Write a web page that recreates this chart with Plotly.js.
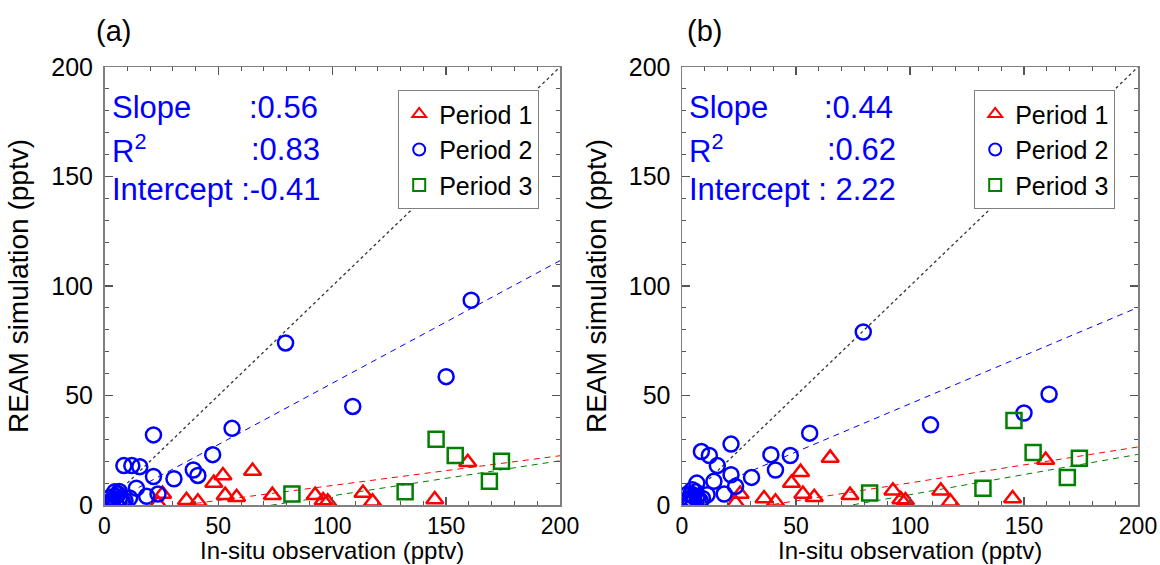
<!DOCTYPE html>
<html>
<head>
<meta charset="utf-8">
<script src="https://cdn.plot.ly/plotly-3.0.1.min.js"></script>
<style>html,body{margin:0;padding:0;background:#fff;}#chart{width:1160px;height:565px;}</style>
</head>
<body>
<div id="chart"></div>
<script>
// ---------------- data ----------------
const panelLabels = ['(a)', '(b)'];
const seriesNames = ['Period 1', 'Period 2', 'Period 3'];
const tickValues = [0, 50, 100, 150, 200];
const xTitle = 'In-situ observation (pptv)';
const yTitle = 'REAM simulation (pptv)';

// Period 1 (red triangles)
const obsP1  = [23.5, 25.5, 36, 41, 48, 52, 53, 58, 65, 73.7, 92.5, 96, 98, 113.5, 117.7, 145, 159.5];
const simP1a = [0.5, 5, 2.2, 1.5, 10, 13.5, 4.5, 3.5, 15.5, 4.5, 4.5, 2, 1.5, 5.5, 1.5, 2.5, 19.5];
const simP1b = [1, 5, 3, 1.5, 10, 15, 5, 3.5, 21.5, 4.5, 6.5, 2.5, 2, 6.5, 1.5, 3, 20.5];

// Period 2 (blue circles)
const obsP2  = [79.5, 109, 161, 150, 56, 21.5, 47.5, 39, 41, 30.5, 21.5, 8.5, 12, 15.5, 14, 18.5, 23.5, 6.5, 11,
                2, 3, 4, 5, 6, 7, 8, 3.5, 5, 6.5, 2.5, 4.5, 9];
const simP2a = [74, 45, 93.5, 58.6, 35, 32, 23, 16, 13.5, 12, 13, 18, 18, 17.5, 7.7, 4, 5, 6.2, 3.2,
                1, 2, 3, 4, 5, 2, 1.5, 0.5, 1, 3, 3.5, 6, 2];
const simP2b = [79, 36.6, 50.6, 42, 32.8, 27.8, 22.6, 23, 16, 12.6, 13.8, 24.4, 22.6, 18, 10.8, 5, 8.5, 10, 4.7,
                2, 3, 5, 4, 6, 3, 2, 1, 1.5, 4, 5, 7, 3];

// Period 3 (green squares)
const obsP3  = [82.3, 132, 145.6, 154, 169, 174.3];
const simP3a = [5, 6, 30, 22.6, 10.8, 20];
const simP3b = [5.5, 7.7, 38.6, 24, 12.6, 21.4];

// regression lines: [slope, intercept, start x] for Period 1, 2, 3
const fitA = [[0.136, -4.7, 40], [0.56, -0.41, 15], [0.16, -11.8, 73]];
const fitB = [[0.164, -6.3, 40], [0.44, 2.22, 22], [0.184, -13.7, 75]];

// statistics text
const statLabels = ['Slope', 'R<sup>2</sup>'];
const statsA = [':0.56', ':0.83', 'Intercept :-0.41'];
const statsB = [':0.44', ':0.62', 'Intercept : 2.22'];

// ---------------- styling ----------------
const W = 1160, H = 565;
const colors = ['#ff0000', '#0000ff', '#008000'];
const symbols = ['triangle-up-open', 'circle-open', 'square-open'];
const FONT = 'Liberation Sans, Arial, Helvetica, sans-serif';
const px = v => v / W;
const py = v => 1 - v / H;

const panels = [
  {xa: 'x', ya: 'y', leg: 'legend', sims: [simP1a, simP2a, simP3a], fit: fitA, stats: statsA,
   left: 104.5, right: 560, statX: [110, 246.5, 249], label: [113, 31]},
  {xa: 'x2', ya: 'y2', leg: 'legend2', sims: [simP1b, simP2b, simP3b], fit: fitB, stats: statsB,
   left: 682, right: 1138, statX: [686.5, 822, 824.5], label: [704, 31]}
];
const obs = [obsP1, obsP2, obsP3];
const plotTop = 67, plotBottom = 505;

const traces = [];
const annotations = [];
panels.forEach((p, pi) => {
  // 1:1 line
  traces.push({x: [10, 200], y: [10, 200], xaxis: p.xa, yaxis: p.ya, mode: 'lines',
    line: {color: '#333', width: 1.3, dash: 'dot'}, showlegend: false, hoverinfo: 'skip'});
  // regression lines
  p.fit.forEach((f, si) => {
    const x0 = f[2], x1 = 200;
    traces.push({x: [x0, x1], y: [f[0] * x0 + f[1], f[0] * x1 + f[1]], xaxis: p.xa, yaxis: p.ya,
      mode: 'lines', line: {color: colors[si], width: 1, dash: '6px,5px'}, showlegend: false, hoverinfo: 'skip'});
  });
  // scatter series
  [0, 1, 2].forEach(si => {
    traces.push({x: obs[si], y: p.sims[si], xaxis: p.xa, yaxis: p.ya, mode: 'markers',
      name: seriesNames[si], legend: p.leg, showlegend: true,
      marker: {symbol: symbols[si], size: 15, color: colors[si],
               line: {color: colors[si], width: 2.5}}});
  });
  // stats annotations
  const rows = [108, 149, 189];
  const f = {family: FONT, size: 31, color: '#0000ff'};
  const add = (x, y, t) => annotations.push({xref: 'paper', yref: 'paper', x: px(x), y: py(y),
    xanchor: 'left', yanchor: 'middle', text: t, showarrow: false, font: f});
  add(p.statX[0], rows[0], statLabels[0]);
  add(p.statX[1], rows[0], p.stats[0]);
  add(p.statX[0], rows[1], statLabels[1]);
  add(p.statX[2], rows[1], p.stats[1]);
  add(p.statX[0], rows[2], p.stats[2]);
  // panel label
  annotations.push({xref: 'paper', yref: 'paper', x: px(p.label[0]), y: py(p.label[1]), xanchor: 'center', yanchor: 'middle',
    text: panelLabels[pi], showarrow: false, font: {family: FONT, size: 29, color: '#000'}});
  // x-axis title (placed as annotation below the tick labels)
  annotations.push({xref: 'paper', yref: 'paper', x: px((p.left + p.right) / 2), y: 0, xanchor: 'center', yanchor: 'bottom',
    text: xTitle, showarrow: false, borderpad: 0, font: {family: FONT, size: 24, color: '#000'}});
});

function xAxis(p) {
  return {domain: [px(p.left), px(p.right)], range: [0, 200], anchor: p.ya,
    tickvals: tickValues, ticks: 'inside', ticklen: 8, tickwidth: 1.3, tickcolor: '#555',
    minor: {dtick: 10, ticks: 'inside', ticklen: 4, tickwidth: 1, tickcolor: '#555'},
    showline: true, linecolor: '#808080', linewidth: 1.5, mirror: 'ticks',
    showgrid: false, zeroline: false, automargin: false, ticklabelstandoff: 0,
    tickfont: {family: FONT, size: 23, color: '#000'}};
}
function yAxis(p) {
  return {domain: [py(plotBottom), py(plotTop)], range: [0, 200], anchor: p.xa,
    tickvals: tickValues, ticks: 'inside', ticklen: 8, tickwidth: 1.3, tickcolor: '#555',
    minor: {dtick: 10, ticks: 'inside', ticklen: 4, tickwidth: 1, tickcolor: '#555'},
    showline: true, linecolor: '#808080', linewidth: 1.5, mirror: 'ticks',
    showgrid: false, zeroline: false, automargin: false, ticklabelstandoff: 5,
    tickfont: {family: FONT, size: 25, color: '#000'},
    title: {text: yTitle, font: {family: FONT, size: 28, color: '#000'}, standoff: 14}};
}

const legendStyle = (x) => ({x: px(x), y: py(90), xanchor: 'left', yanchor: 'top', xref: 'paper', yref: 'paper',
  bgcolor: '#fff', bordercolor: '#808080', borderwidth: 1.2,
  font: {family: FONT, size: 25, color: '#000'}, itemsizing: 'constant', itemwidth: 30, tracegroupgap: 0});

const layout = {
  width: W, height: H, margin: {l: 0, r: 0, t: 0, b: 0},
  paper_bgcolor: '#fff', plot_bgcolor: '#fff',
  font: {family: FONT, color: '#000'},
  xaxis: xAxis(panels[0]), yaxis: yAxis(panels[0]),
  xaxis2: xAxis(panels[1]), yaxis2: yAxis(panels[1]),
  legend: legendStyle(398), legend2: legendStyle(974),
  annotations: annotations,
  showlegend: true
};

Plotly.newPlot('chart', traces, layout, {staticPlot: true, displayModeBar: false});
</script>
</body>
</html>
